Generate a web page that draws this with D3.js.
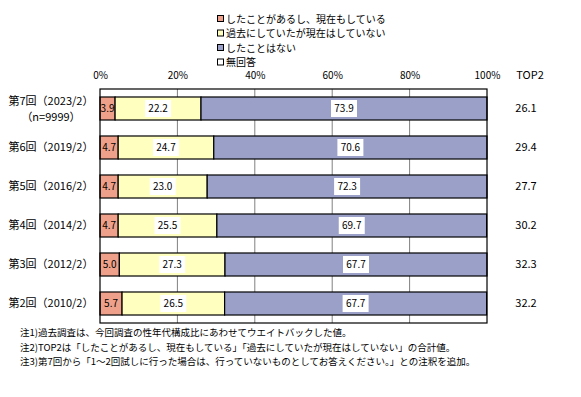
<!DOCTYPE html>
<html><head><meta charset="utf-8">
<script src="https://cdn.jsdelivr.net/npm/d3@7"></script>
<style>body{margin:0;background:#fff;} text{font-family:"Noto Sans CJK JP","Noto Sans",sans-serif;}</style>
</head><body>
<svg id="c" width="581" height="397"></svg>
<script>
const categories = ["第7回（2023/2）","第6回（2019/2）","第5回（2016/2）","第4回（2014/2）","第3回（2012/2）","第2回（2010/2）"];
const subLabels = ["（n=9999）","","","","",""];
const seriesNames = ["したことがあるし、現在もしている","過去にしていたが現在はしていない","したことはない","無回答"];
const current = [3.9,4.7,4.7,4.7,5.0,5.7];
const past = [22.2,24.7,23.0,25.5,27.3,26.5];
const never = [73.9,70.6,72.3,69.7,67.7,67.7];
const noAnswer = [0,0,0,0,0,0];
const top2 = ["26.1","29.4","27.7","30.2","32.3","32.2"];
const tickValues = [0,20,40,60,80,100];
const notes = ["注1)過去調査は、今回調査の性年代構成比にあわせてウエイトバックした値。",
"注2)TOP2は「したことがあるし、現在もしている」「過去にしていたが現在はしていない」の合計値。",
"注3)第7回から「1～2回試しに行った場合は、行っていないものとしてお答えください。」との注釈を追加。"];
const colors = ["#EFA08A","#FFFFC0","#9AA0C8","#FFFFFF"];

const svg = d3.select("#c");
const x = d3.scaleLinear().domain([0,100]).range([100,487]);
const y = d3.scaleBand().domain(categories).range([89,323]).paddingInner(0.41).paddingOuter(0.205);

// gridlines
svg.append("g").selectAll("line").data(tickValues.slice(1,-1)).join("line")
  .attr("x1",d=>x(d)).attr("x2",d=>x(d)).attr("y1",89).attr("y2",323)
  .attr("stroke","#808080").attr("stroke-width",1);

const series = [current,past,never,noAnswer];
const rows = categories.map((c,i)=>{
  let acc=0; return series.map((s,k)=>{const v=s[i]; const o={cat:c,k,v,x0:acc,x1:acc+v}; acc+=v; return o;});
});
const g = svg.append("g");
rows.forEach(r=>{
  g.selectAll(null).data(r.filter(d=>d.v>0)).join("rect")
    .attr("x",d=>x(d.x0)).attr("width",d=>x(d.x1)-x(d.x0))
    .attr("y",d=>y(d.cat)).attr("height",y.bandwidth())
    .attr("fill",d=>colors[d.k]).attr("stroke","#000").attr("stroke-width",1.2);
  r.filter(d=>d.v>0 && d.k<3).forEach(d=>{
    const cx=(x(d.x0)+x(d.x1))/2, cy=y(d.cat)+y.bandwidth()/2;
    if(d.k>0){
      g.append("rect").attr("x",cx-13).attr("y",cy-8.5).attr("width",26).attr("height",17).attr("fill","#fff");
    }
    g.append("text").attr("x",cx).attr("y",cy).attr("dy","0.35em").attr("text-anchor","middle")
      .attr("font-size",10).attr("fill","#000").text(d.v.toFixed(1));
  });
});

// frame
svg.append("rect").attr("x",100).attr("y",89).attr("width",387).attr("height",234)
  .attr("fill","none").attr("stroke","#000").attr("stroke-width",1.2);

// top axis labels
const ax = d3.axisTop(x).tickValues(tickValues).tickFormat(d=>d+"%").tickSize(0).tickPadding(0);
const axg = svg.append("g").attr("transform","translate(0,79)").call(ax);
axg.select(".domain").remove();
axg.selectAll("text").attr("font-size",10).attr("fill","#000").attr("font-family","'Liberation Sans Narrow','DejaVu Sans Condensed',sans-serif");

svg.append("text").attr("x",530).attr("y",79).attr("text-anchor","middle").attr("font-size",11).text("TOP2");

// category labels
categories.forEach((c,i)=>{
  const cy=y(c)+y.bandwidth()/2;
  if(subLabels[i]){
    svg.append("text").attr("x",51).attr("y",cy-7).attr("dy","0.35em").attr("text-anchor","middle").attr("font-size",11).text(c);
    svg.append("text").attr("x",51).attr("y",cy+9).attr("dy","0.35em").attr("text-anchor","middle").attr("font-size",11).text(subLabels[i]);
  } else {
    svg.append("text").attr("x",51).attr("y",cy).attr("dy","0.35em").attr("text-anchor","middle").attr("font-size",11).text(c);
  }
  svg.append("text").attr("x",526).attr("y",cy).attr("dy","0.35em").attr("text-anchor","middle").attr("font-size",11).text(top2[i]);
});

// legend
const lg = svg.append("g");
seriesNames.forEach((n,i)=>{
  const ly=19+i*14.5;
  lg.append("rect").attr("x",217.5).attr("y",ly-3.5).attr("width",6).attr("height",6).attr("fill",colors[i]).attr("stroke","#000").attr("stroke-width",1);
  lg.append("text").attr("x",226).attr("y",ly).attr("dy","0.35em").attr("font-size",10).text(n);
});

// notes
notes.forEach((t,i)=>{
  svg.append("text").attr("x",20).attr("y",333+i*14.5).attr("dy","0.35em").attr("font-size",9.5).text(t);
});
</script>
</body></html>
